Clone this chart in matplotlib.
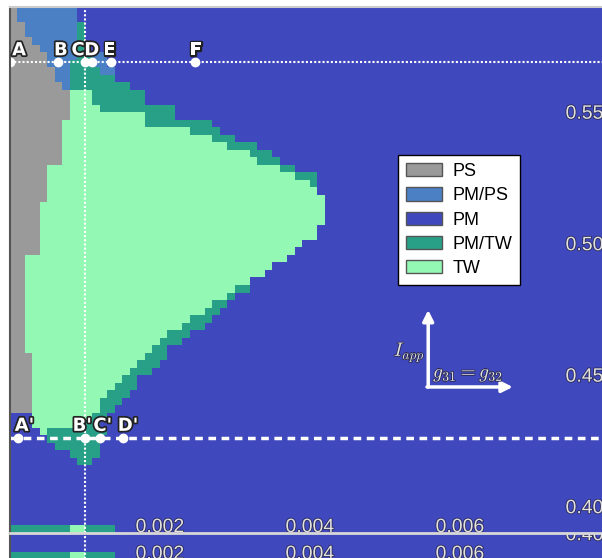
import matplotlib
matplotlib.use("Agg")
import matplotlib.pyplot as plt
import matplotlib.patheffects as pe
from matplotlib.colors import ListedColormap, BoundaryNorm
from matplotlib.patches import Patch
import numpy as np

plt.rcParams['font.family'] = ['Liberation Sans', 'DejaVu Sans']
plt.rcParams['mathtext.fontset'] = 'cm'

# dynamical states and their colours
states = ["PS", "PM/PS", "PM", "PM/TW", "TW"]
state_colors = ["#9a9a9a", "#4b80c4", "#4048be", "#28a088", "#93f8b3"]
codes = {"S": 0, "B": 1, "M": 2, "T": 3, "W": 4}

# parameter grid: g31=g32 along x, I_app along y
g_range = (0.0, 0.008)
iapp_range = (0.39, 0.59)
n_cols = 80

# one string per I_app row (top row first), runs of "<state><n columns>",
# the last run fills the row
state_runs = [
    "S1 B8 M", "S1 B8 M", "S2 B7 T1 M", "S2 B7 T1 M", "S3 B6 T1 M",
    "S4 B5 T1 M", "S5 B4 T2 B2 M", "S5 B3 T3 B2 M", "S6 B2 T4 B2 M", "S6 B2 T6 M",
    "S7 B1 T8 M", "S8 W3 T7 M", "S8 W3 T7 M", "S8 W4 T10 M", "S8 W10 T4 M",
    "S7 W11 T9 M", "S7 W17 T4 M", "S7 W20 T3 M", "S7 W22 T4 M", "S7 W25 T3 M",
    "S7 W26 T3 M", "S5 W31 T2 M", "S5 W33 T3 M", "S5 W35 T1 M", "S5 W36 M",
    "S5 W37 M", "S4 W38 M", "S4 W38 M", "S4 W38 M", "S4 W37 M",
    "S4 W37 M", "S4 W35 M", "S4 W34 M", "S2 W35 M", "S2 W33 M",
    "S2 W32 M", "S2 W30 M", "S2 W28 T2 M", "S2 W27 T1 M", "S2 W25 T2 M",
    "S2 W24 T2 M", "S2 W22 T3 M", "S2 W21 T3 M", "S2 W19 T3 M", "S2 W18 T3 M",
    "S2 W17 T2 M", "S3 W15 T3 M", "S3 W14 T3 M", "S3 W13 T3 M", "S3 W12 T2 M",
    "S3 W11 T3 M", "S3 W10 T3 M", "S3 W9 T3 M", "S3 W9 T2 M", "M3 W8 T2 M",
    "M3 W7 T2 M", "M4 W1 T8 M", "M5 T7 M", "M6 T6 M", "M8 T4 M",
    "M9 T2 M", "M", "M", "M", "M",
    "M", "M", "M", "M", "T8 W2 T4 M",
]

# marked parameter points
g_section = 0.001
upper_iapp = 0.569
upper_g = [0.0, 0.00064, 0.001, 0.00109, 0.00135, 0.00247]
upper_labels = ["A", "B", "C", "D", "E", "F"]
lower_iapp = 0.4262
lower_g = [0.0001, 0.001, 0.0012, 0.0015]
lower_labels = ["A'", "B'", "C'", "D'"]

xticks = [0.002, 0.004, 0.006]
yticks = [0.40, 0.45, 0.50, 0.55]


def decode(row):
    cells = []
    for run in row.split():
        n = int(run[1:]) if len(run) > 1 else n_cols - len(cells)
        cells += [codes[run[0]]] * n
    return cells


grid = np.array([decode(r) for r in state_runs])
cmap = ListedColormap(state_colors)
norm = BoundaryNorm(np.arange(-0.5, len(states)), cmap.N)

light = '#e2e2e2'
soft_edge = [pe.withStroke(linewidth=1.2, foreground='#2a2a55')]


def draw_map(ax, ylim):
    ax.imshow(grid, cmap=cmap, norm=norm, extent=(*g_range, *iapp_range),
              aspect='auto', interpolation='nearest', origin='upper')
    ax.axvline(g_section, color='white', lw=1.5, ls=(0, (1, 1)))
    ax.set_xticks(xticks)
    ax.set_xticklabels([f"{v:.3f}" for v in xticks])
    ax.set_yticks(yticks)
    ax.set_yticklabels([f"{v:.2f}" for v in yticks])
    # limits after the ticks, so the ticks do not widen them
    ax.set_xlim(*g_range)
    ax.set_ylim(*ylim)
    ax.yaxis.tick_right()
    ax.tick_params(axis='x', length=0, pad=-10, labelsize=14, labelcolor=light)
    ax.tick_params(axis='y', length=0, pad=-32, labelsize=14, labelcolor=light)
    for lbl in ax.get_xticklabels() + ax.get_yticklabels():
        lbl.set_path_effects(soft_edge)
    ax.spines['left'].set_color('#555555')
    ax.spines['left'].set_linewidth(1.5)
    ax.spines['right'].set_visible(False)


fig = plt.figure(figsize=(6.02, 5.58), dpi=100)

# the strip underneath repeats the bottom of the map
ax_low = fig.add_axes([10 / 602, -2 / 558, 600 / 602, 27 / 558])
draw_map(ax_low, (0.39, 0.39 + 27 / 2630))
ax_low.spines['top'].set_visible(False)
ax_low.spines['bottom'].set_visible(False)

ax = fig.add_axes([10 / 602, 25 / 558, 600 / 602, 526 / 558])
draw_map(ax, iapp_range)
ax.spines['top'].set_color('#cccccc')
ax.spines['top'].set_linewidth(1.5)
ax.spines['bottom'].set_color('#d8d8d8')
ax.spines['bottom'].set_linewidth(2)

bold_edge = [pe.withStroke(linewidth=2.5, foreground='#222222')]
upper_dx = [6.5, 2, -5, 0, -1.5, 0.5]
lower_dx = [5, -2, 2, 4]

ax.axhline(upper_iapp, color='white', lw=1.5, ls=(0, (1, 1)))
ax.plot(upper_g, [upper_iapp] * len(upper_g), 'o', color='white', ms=6)
for g, lab, dx in zip(upper_g, upper_labels, upper_dx):
    ax.annotate(lab, (g, upper_iapp), xytext=(dx, 5), textcoords='offset points',
                ha='center', va='baseline', color='white', fontsize=13,
                fontweight='bold', family='DejaVu Sans', path_effects=bold_edge)

ax.axhline(lower_iapp, color='white', lw=2.5, ls=(0, (2.2, 1.6)))
ax.plot(lower_g, [lower_iapp] * len(lower_g), 'o', color='white', ms=6)
for g, lab, dx in zip(lower_g, lower_labels, lower_dx):
    ax.annotate(lab, (g, lower_iapp), xytext=(dx, 5), textcoords='offset points',
                ha='center', va='baseline', color='white', fontsize=13,
                fontweight='bold', family='DejaVu Sans', path_effects=bold_edge)

# axis orientation arrows
arrow = dict(arrowstyle='-|>', color='white', lw=2.5, mutation_scale=16,
             shrinkA=0, shrinkB=0)
ax.annotate('', xy=(0.697, 0.424), xytext=(0.697, 0.2776),
            xycoords='axes fraction', arrowprops=arrow)
ax.annotate('', xy=(0.838, 0.2776), xytext=(0.695, 0.2776),
            xycoords='axes fraction', arrowprops=arrow)
ax.text(0.6917, 0.344, r'$I_{app}$', transform=ax.transAxes, ha='right',
        va='center', fontsize=14, color=light, path_effects=soft_edge)
ax.text(0.705, 0.300, r'$g_{31}=g_{32}$', transform=ax.transAxes, ha='left',
        va='center', fontsize=14, color=light, path_effects=soft_edge)

handles = [Patch(facecolor=c, edgecolor='#555555', lw=1, label=s)
           for s, c in zip(states, state_colors)]
leg = ax.legend(handles=handles, loc='upper left',
                bbox_to_anchor=(398 / 602, 1 - 155 / 558),
                bbox_transform=fig.transFigure, borderaxespad=0, fontsize=13,
                fancybox=False, framealpha=1, edgecolor='black',
                handlelength=2.0, handleheight=0.75, handletextpad=0.55,
                labelspacing=0.4, borderpad=0.45)
leg.get_frame().set_linewidth(1.0)

fig.savefig('out.png', dpi=100)
